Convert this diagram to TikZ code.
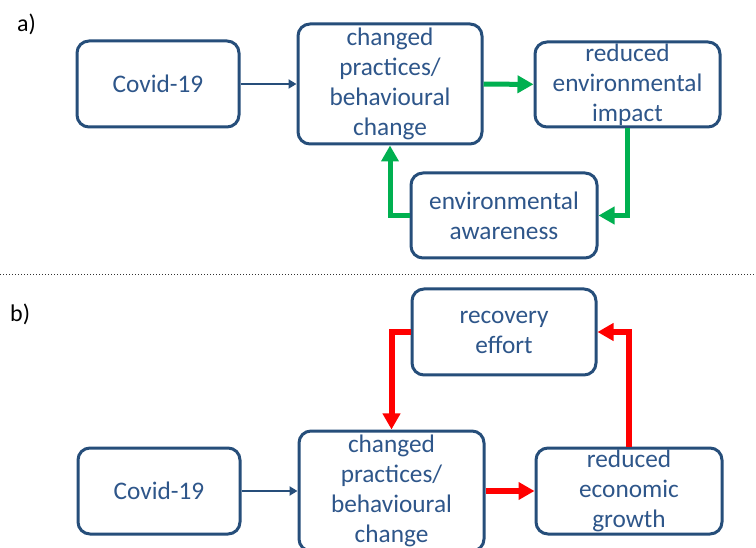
\documentclass[tikz,border=0pt]{standalone}
\usepackage{fontspec}
\setmainfont{Carlito}
\usepackage{tikz}
\usetikzlibrary{arrows.meta}
\definecolor{frame}{RGB}{38, 78, 122}
\definecolor{ink}{RGB}{46, 86, 138}
\definecolor{good}{RGB}{0, 176, 80}
\definecolor{bad}{RGB}{255, 0, 0}

\begin{document}
\begin{tikzpicture}[x=1pt, y=-1pt,
  box/.style={draw=frame, line width=3pt, rounded corners=12pt, text=ink,
    align=center, inner sep=0pt, font=\fontsize{25.3}{30}\selectfont},
  cause/.style={frame, line width=2.3pt, -{Triangle[length=8pt, width=9pt]}},
  loopg/.style={good, line width=5pt, -{Triangle[length=16pt, width=17pt]}},
  loopr/.style={bad, line width=6pt, -{Triangle[length=16pt, width=17pt]}},
  tag/.style={anchor=west, inner sep=0pt, font=\fontsize{24}{28}\selectfont}]
  \useasboundingbox (0, 0) rectangle (756, 548);
  \fill[white] (0, 0) rectangle (756, 548);

  % a) positive loop
  \node[tag] (tagA) at (17, 24) {a)};
  \node[box, minimum width=162pt, minimum height=86pt] (covA) at (158, 84) {Covid-19};
  \node[box, minimum width=184pt, minimum height=120pt] (chgA) at (390, 84)
    {changed\\practices/\\behavioural\\change};
  \node[box, minimum width=185pt, minimum height=85pt] (redA) at (627.5, 84.5)
    {reduced\\environmental\\impact};
  \node[box, minimum width=186pt, minimum height=85pt] (awaA) at (504, 215.5)
    {environmental\\awareness};

  \draw[cause] (covA) -- (chgA);
  \draw[loopg] (chgA) -- (redA);
  \draw[loopg] (redA.south) |- (awaA.east);
  \draw[loopg] (awaA.west) -| (chgA.south);

  \draw[black!80, line width=1pt, dotted] (0, 274.5) -- (756, 274.5);

  % b) negative loop
  \node[tag] (tagB) at (10, 314) {b)};
  \node[box, minimum width=184pt, minimum height=86pt] (recB) at (504, 332)
    {recovery\\effort};
  \node[box, minimum width=162pt, minimum height=86pt] (covB) at (159, 491) {Covid-19};
  \node[box, minimum width=185pt, minimum height=120pt] (chgB) at (391.5, 491)
    {changed\\practices/\\behavioural\\change};
  \node[box, minimum width=186pt, minimum height=86pt] (redB) at (629, 491)
    {reduced\\economic\\growth};

  \draw[cause] (covB) -- (chgB);
  \draw[loopr] (chgB) -- (redB);
  \draw[loopr] (redB.north) |- (recB.east);
  \draw[loopr] (recB.west) -| (chgB.north);
\end{tikzpicture}
\end{document}
